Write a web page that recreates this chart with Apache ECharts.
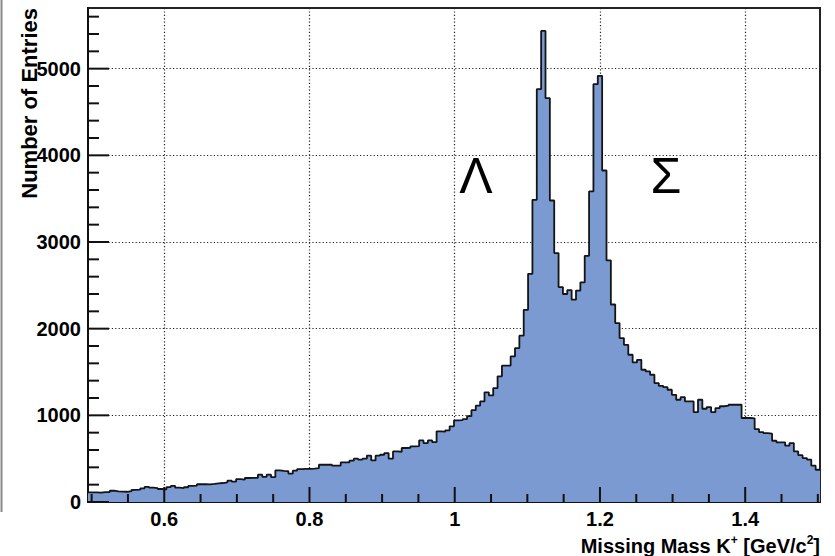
<!DOCTYPE html>
<html>
<head>
<meta charset="utf-8">
<script src="https://cdn.jsdelivr.net/npm/echarts@6/dist/echarts.min.js"></script>
<style>
html,body{margin:0;padding:0;background:#fff;}
#chart{width:835px;height:556px;}
</style>
</head>
<body>
<div id="chart"></div>
<script>
// Histogram binning (GeV/c^2)
const binLow = 0.495;
const binWidth = 0.006;
// Entries per bin
const counts = [
  110,112,108,115,113,130,122,120,118,125,
  140,142,158,175,165,160,150,145,172,185,
  165,160,170,185,190,205,205,203,208,215,
  219,227,246,235,265,258,277,278,280,315,
  290,315,288,365,358,355,327,361,380,382,
  383,385,390,430,432,430,420,419,457,457,
  477,500,490,500,534,480,534,545,565,500,
  584,580,623,625,642,645,711,680,711,690,
  815,812,827,873,942,945,957,990,1060,1111,
  1161,1265,1230,1315,1450,1573,1575,1680,1776,1919,
  2217,2633,3487,4763,5436,4660,3479,2872,2480,2400,
  2445,2335,2440,2533,2841,3583,4821,4917,3825,2787,
  2279,2064,1891,1814,1699,1610,1641,1526,1507,1468,
  1372,1341,1326,1295,1237,1180,1210,1160,1160,1037,
  1180,1076,1095,1037,1084,1105,1111,1122,1122,1122,
  969,969,965,842,807,795,788,707,688,688,
  650,680,584,540,507,490,419,372
];
const xMajorTicks = [0.6, 0.8, 1, 1.2, 1.4];
const xMinorTicks = [0.5,0.55,0.65,0.7,0.75,0.85,0.9,0.95,1.05,1.1,1.15,1.25,1.3,1.35,1.45,1.5];
const yMajorTicks = [0, 1000, 2000, 3000, 4000, 5000];
const yMinorTicks = [200,400,600,800,1200,1400,1600,1800,2200,2400,2600,2800,3200,3400,3600,3800,4200,4400,4600,4800,5200,5400,5600];
const xTitle = 'Missing Mass K';
const yTitle = 'Number of Entries';
const peakLabels = ['Λ', 'Σ'];

const xMin = binLow;
const xMax = +(binLow + counts.length * binWidth).toFixed(3);
const yMax = 5700;

const histData = counts.map((v, i) => [+(binLow + i * binWidth).toFixed(4), v]);
histData.push([xMax, counts[counts.length - 1]]);

const FONT = "'Liberation Sans', Arial, sans-serif";
const labelStyle = { color: '#000', fontFamily: FONT, fontWeight: 'bold', fontSize: 20 };
const dotted = { color: '#222', width: 1.2, type: [1.2, 2.2] };

// Inside ticks drawn through the axes' own scales (custom series, pixel lengths)
function tickSeries(values, isX, len) {
  return {
    type: 'custom', coordinateSystem: 'cartesian2d', xAxisIndex: 0, yAxisIndex: 0,
    silent: true, clip: false, z: 5,
    data: values.map(v => isX ? [v, 0] : [xMin, v]),
    renderItem: function (params, api) {
      const p = api.coord([api.value(0), api.value(1)]);
      return {
        type: 'line',
        shape: isX ? { x1: p[0], y1: p[1], x2: p[0], y2: p[1] - len } : { x1: p[0], y1: p[1], x2: p[0] + len, y2: p[1] },
        style: { stroke: '#111', lineWidth: 2 }
      };
    }
  };
}

const chart = echarts.init(document.getElementById('chart'), null, { renderer: 'svg' });
chart.setOption({
  animation: false,
  backgroundColor: '#fff',
  grid: { left: 88, right: 15, top: 8, bottom: 54, show: true, borderColor: '#222', borderWidth: 2, backgroundColor: 'transparent' },
  xAxis: {
    type: 'value', min: xMin, max: xMax, position: 'bottom',
    axisLine: { show: true, onZero: false, lineStyle: { color: '#111', width: 2 } },
    axisTick: { show: false, customValues: xMajorTicks },
    axisLabel: Object.assign({ show: true, margin: 7, customValues: xMajorTicks }, labelStyle),
    splitLine: { show: true, lineStyle: dotted }
  },
  yAxis: {
    type: 'value', min: 0, max: yMax, position: 'left',
    axisLine: { show: true, onZero: false, lineStyle: { color: '#111', width: 2 } },
    axisTick: { show: false, customValues: yMajorTicks },
    axisLabel: Object.assign({ show: true, margin: 7, customValues: yMajorTicks, formatter: function (v) { return String(v); } }, labelStyle),
    splitLine: { show: true, lineStyle: dotted }
  },
  series: [
    {
      type: 'line',
      step: 'end',
      symbol: 'none',
      data: histData,
      clip: true,
      z: 3,
      lineStyle: { color: '#141414', width: 1.8 },
      areaStyle: { color: '#7b9ad2', opacity: 1 }
    },
    tickSeries(xMajorTicks, true, 15),
    tickSeries(xMinorTicks, true, 8),
    tickSeries(yMajorTicks, false, 21),
    tickSeries(yMinorTicks, false, 11)
  ],
  graphic: [
    {
      type: 'line', silent: true,
      shape: { x1: 1.5, y1: 0, x2: 1.5, y2: 512 },
      style: { stroke: '#8a8a8a', lineWidth: 2 }
    },
    {
      type: 'text', x: 29, y: 8, rotation: Math.PI / 2,
      style: { text: yTitle, fill: '#000', font: 'bold 22px ' + FONT, align: 'right', verticalAlign: 'middle' }
    },
    {
      type: 'text', x: 820, y: 534,
      style: {
        text: '{m|' + xTitle + '}{s|+}{m| [GeV/c}{s|2}{m|]}',
        align: 'right', verticalAlign: 'top', fill: '#000',
        rich: {
          m: { fontFamily: FONT, fontWeight: 'bold', fontSize: 20, lineHeight: 22, verticalAlign: 'bottom', fill: '#000' },
          s: { fontFamily: FONT, fontWeight: 'bold', fontSize: 12, lineHeight: 12, verticalAlign: 'top', fill: '#000' }
        }
      }
    },
    {
      type: 'text', x: 476, y: 176,
      style: { text: peakLabels[0], fill: '#000', font: '50px ' + FONT, align: 'center', verticalAlign: 'middle' }
    },
    {
      type: 'text', x: 666, y: 176,
      style: { text: peakLabels[1], fill: '#000', font: '50px ' + FONT, align: 'center', verticalAlign: 'middle' }
    }
  ]
});
</script>
</body>
</html>
